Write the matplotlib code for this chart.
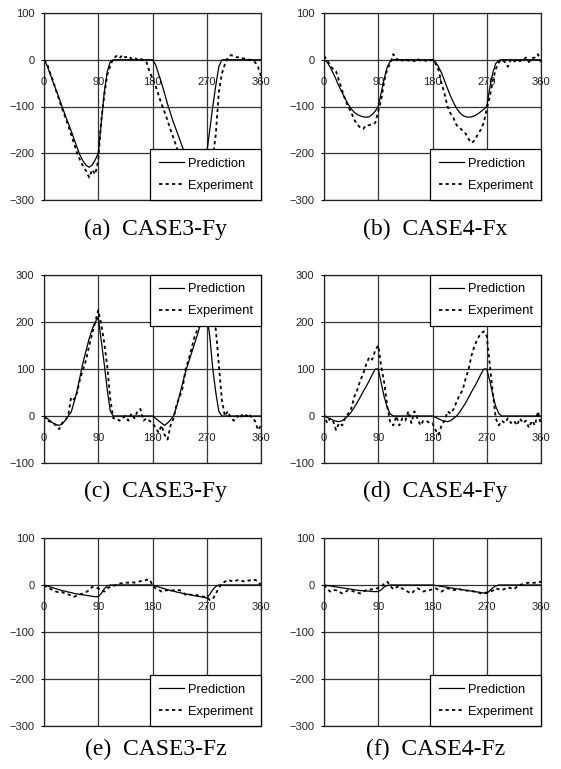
import numpy as np
import matplotlib.pyplot as plt

# crank angle, deg (5 deg steps)
angles = np.arange(0, 361, 5)
x_ticks = [0, 90, 180, 270, 360]

pred_a = [0, -12, -30, -48, -65, -82, -100, -118, -135, -152,
          -170, -188, -205, -217, -226, -230, -225, -214, -200, -135,
          -70, -25, -4, 0, 0, 0, 0, 0, 0, 0,
          0, 0, 0, 0, 0, 0, 0, -10, -30, -50,
          -72, -95, -115, -135, -152, -170, -188, -205, -218, -228,
          -232, -230, -225, -215, -200, -150, -100, -55, -15, 0,
          0, 0, 0, 0, 0, 0, 0, 0, 0, 0,
          0, 0, 0]
exp_a = [0, -8, -28, -45, -65, -85, -105, -122, -140, -160,
         -180, -200, -215, -228, -238, -252, -235, -245, -215, -130,
         -75, -32, -12, 2, 8, 3, 10, 5, 8, 2,
         5, 0, 3, -2, -5, -25, -40, -55, -75, -95,
         -112, -130, -150, -168, -187, -205, -220, -235, -245, -250,
         -252, -250, -245, -240, -235, -225, -210, -160, -70, -30,
         -10, 5, 10, 8, 5, 6, 3, 2, 0, 0,
         -5, -15, -35]

pred_b = [0, -5, -15, -28, -42, -57, -70, -83, -95, -105,
          -112, -117, -120, -122, -123, -122, -117, -110, -100, -70,
          -40, -15, -3, 0, 0, 0, 0, 0, 0, 0,
          0, 0, 0, 0, 0, 0, 0, -5, -15, -28,
          -45, -62, -78, -92, -104, -113, -119, -122, -123, -122,
          -120, -116, -111, -106, -100, -60, -28, -8, -1, 0,
          0, 0, 0, 0, 0, 0, 0, 0, 0, 0,
          0, 0, 0]
exp_b = [8, 0, -12, -20, -25, -45, -65, -85, -100, -112,
         -128, -138, -145, -148, -140, -140, -138, -135, -110, -85,
         -45, -20, -8, 12, 0, 3, -2, 2, -2, 0,
         -3, 2, -2, 0, -3, -2, 0, -8, -22, -50,
         -73, -100, -115, -125, -140, -145, -152, -158, -170, -178,
         -172, -160, -150, -135, -105, -80, -45, -20, -5, 0,
         -5, -15, 0, -5, 2, -3, 0, 5, -5, 3,
         5, 12, -5]

pred_c = [0, -5, -10, -15, -18, -20, -17, -10, 0, 8,
          30, 55, 85, 115, 140, 165, 185, 200, 210, 160,
          110, 55, 10, 0, 0, 0, 0, 0, 0, 0,
          0, 0, 0, 0, 0, 0, 0, -5, -10, -15,
          -20, -15, -8, 0, 20, 45, 70, 95, 115, 135,
          155, 175, 197, 210, 215, 170, 100, 50, 10, 0,
          0, 0, 0, 0, 0, 0, 0, 0, 0, 0,
          0, 0, 0]
exp_c = [0, -10, -12, -15, -20, -28, -15, -10, 0, 40,
         35, 50, 80, 100, 120, 150, 175, 200, 225, 195,
         155, 105, 35, -5, -5, -10, -5, 0, -10, 5,
         -5, 10, 15, -10, -5, -10, -15, -25, -35, -20,
         -40, -50, -20, -5, 25, 40, 60, 100, 120, 145,
         170, 185, 200, 215, 225, 220, 205, 185, 110, 35,
         0, 10, -5, -10, 0, -5, 5, 0, 5, -5,
         -10, -30, -20]

pred_d = [0, -3, -6, -9, -11, -12, -10, -5, 0, 8,
          18, 28, 40, 52, 63, 75, 88, 100, 100, 70,
          40, 18, 4, 0, 0, 0, 0, 0, 0, 0,
          0, 0, 0, 0, 0, 0, 0, -3, -6, -9,
          -11, -12, -10, -5, 0, 8, 18, 28, 40, 52,
          63, 75, 88, 100, 100, 75, 45, 20, 5, 0,
          0, 0, 0, 0, 0, 0, 0, 0, 0, 0,
          0, 0, 0]
exp_d = [5, -15, -5, -10, -30, -15, -20, -5, 5, 15,
         40, 55, 75, 90, 110, 125, 120, 140, 150, 105,
         70, 20, -15, -20, 0, -20, -5, -10, 10, -15,
         10, -5, -20, -10, -10, -15, -15, -30, -40, -20,
         -10, 10, 5, 15, 30, 45, 55, 80, 100, 130,
         150, 165, 175, 180, 170, 110, 50, -5, -20, -10,
         -15, -5, -15, -10, -20, -5, -15, -10, -25, -10,
         -20, 10, -20]

pred_e = [0, -2, -4, -6, -8, -10, -12, -13, -15, -16,
          -18, -19, -20, -21, -22, -23, -24, -25, -25, -18,
          -8, -2, 0, 0, 0, 0, 0, 0, 0, 0,
          0, 0, 0, 0, 0, 0, 0, -2, -4, -6,
          -8, -10, -12, -13, -15, -16, -18, -19, -20, -21,
          -23, -24, -25, -26, -28, -20, -10, -3, 0, 0,
          0, 0, 0, 0, 0, 0, 0, 0, 0, 0,
          0, 0, 0]
exp_e = [0, -5, -8, -11, -14, -16, -15, -18, -20, -22,
         -25, -22, -20, -18, -15, -11, -4, -6, -7, -11,
         -14, -7, -4, -2, 0, 3, 4, 5, 5, 6,
         5, 7, 8, 9, 11, 12, 0, -7, -10, -14,
         -12, -11, -12, -11, -10, -11, -15, -21, -20, -21,
         -21, -22, -24, -25, -25, -32, -30, -18, -7, 3,
         7, 11, 9, 7, 10, 11, 8, 7, 10, 9,
         11, 8, 0]

pred_f = [0, -1, -2, -3, -4, -5, -6, -7, -8, -9,
          -10, -11, -12, -12, -13, -13, -14, -14, -14, -10,
          -4, -1, 0, 0, 0, 0, 0, 0, 0, 0,
          0, 0, 0, 0, 0, 0, 0, -1, -2, -3,
          -4, -5, -6, -7, -8, -9, -10, -11, -12, -13,
          -14, -15, -16, -17, -18, -12, -6, -2, 0, 0,
          0, 0, 0, 0, 0, 0, 0, 0, 0, 0,
          0, 0, 0]
exp_f = [0, -7, -14, -11, -11, -14, -18, -15, -11, -12,
         -14, -16, -18, -14, -11, -10, -9, -9, -6, -4,
         3, 7, -2, -9, -5, -2, -8, -11, -15, -18,
         -12, -7, -10, -14, -12, -11, -9, -7, -10, -14,
         -10, -7, -9, -11, -10, -9, -11, -12, -12, -13,
         -14, -15, -18, -17, -16, -14, -12, -7, -9, -11,
         -8, -5, -7, -9, -4, 0, 2, 4, 5, 4,
         5, 6, 7]

captions = ["(a)  CASE3-Fy", "(b)  CASE4-Fx", "(c)  CASE3-Fy",
            "(d)  CASE4-Fy", "(e)  CASE3-Fz", "(f)  CASE4-Fz"]
preds = [pred_a, pred_b, pred_c, pred_d, pred_e, pred_f]
exps = [exp_a, exp_b, exp_c, exp_d, exp_e, exp_f]
ylims = [(-300, 100), (-300, 100), (-100, 300), (-100, 300), (-300, 100), (-300, 100)]
legend_locs = ["lower right", "lower right", "upper right", "upper right",
               "lower right", "lower right"]

W, H = 561, 769
fig = plt.figure(figsize=(W / 100, H / 100), dpi=100)

# axes boxes in pixels: left, top, right, bottom
col_x = [(44, 261), (324, 541)]
row_y = [(13, 200), (275, 463), (538, 726)]
cap_y = [229, 491, 749]

for i in range(6):
    r, c = divmod(i, 2)
    x0, x1 = col_x[c]
    y0, y1 = row_y[r]
    ax = fig.add_axes([x0 / W, 1 - y1 / H, (x1 - x0) / W, (y1 - y0) / H])

    ax.plot(angles, preds[i], color="black", lw=0.9, label="Prediction")
    ax.plot(angles, exps[i], color="black", lw=1.3, ls=(0, (1.8, 1.8)),
            label="Experiment")

    ymin, ymax = ylims[i]
    ax.set_xlim(0, 360)
    ax.set_ylim(ymin, ymax)
    ax.set_xticks(x_ticks)
    ax.set_yticks(np.arange(ymin, ymax + 1, 100))
    ax.tick_params(axis="x", length=0, labelbottom=False)
    ax.tick_params(axis="y", length=2, width=0.8, pad=5, labelsize=8,
                   labelcolor="#222222")
    for lbl in ax.get_yticklabels():
        lbl.set_family("Liberation Sans")
    ax.grid(True, color="#333333", lw=0.9)
    ax.set_axisbelow(True)
    for sp in ax.spines.values():
        sp.set_linewidth(0.9)
        sp.set_color("#222222")

    # x labels sit just under the zero line
    sec = ax.secondary_xaxis((0 - ymin) / (ymax - ymin))
    sec.set_alignment("bottom")
    sec.set_xticks(x_ticks)
    sec.tick_params(length=0, pad=12.5, labelsize=8, labelcolor="#222222")
    for lbl in sec.get_xticklabels():
        lbl.set_family("Liberation Sans")
    for sp in sec.spines.values():
        sp.set_visible(False)

    leg = ax.legend(loc=legend_locs[i], fancybox=False, framealpha=1,
                    edgecolor="black", borderaxespad=0,
                    handlelength=2.0, handletextpad=0.25, borderpad=0.65,
                    labelspacing=0.75, prop={"family": "Liberation Sans", "size": 9.3})
    leg.get_frame().set_linewidth(0.9)

    fig.text(((x0 + x1) / 2 + 3) / W, 1 - cap_y[r] / H, captions[i],
             family="Liberation Serif", fontsize=17, ha="center", va="center")

fig.savefig("out.png", dpi=100)
